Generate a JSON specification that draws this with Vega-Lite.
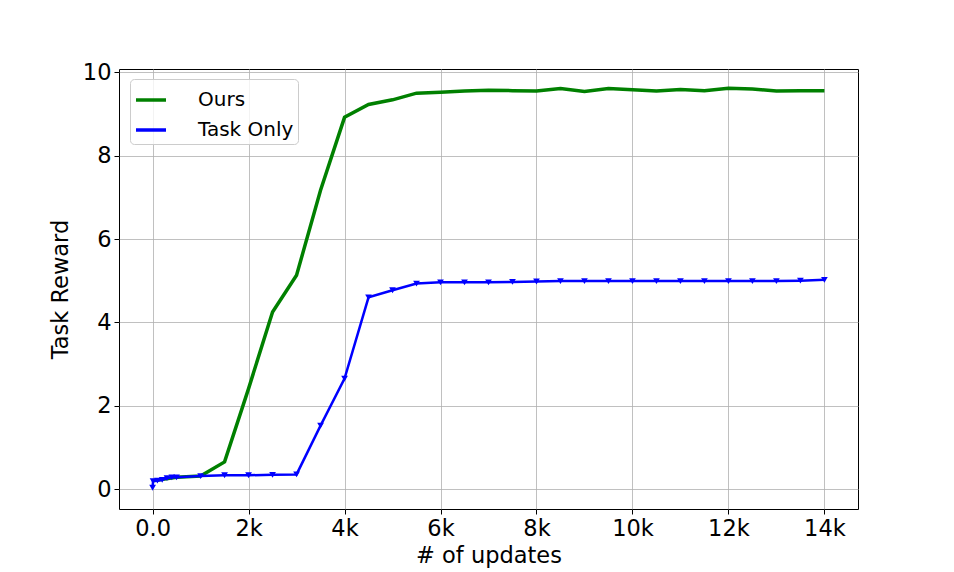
{
  "$schema": "https://vega.github.io/schema/vega-lite/v6.json",
  "width": 739,
  "height": 440,
  "autosize": {"type": "none"},
  "padding": {"left": 119, "top": 69, "right": 96, "bottom": 63},
  "background": "white",
  "config": {
    "font": "DejaVu Sans",
    "view": {"stroke": "black", "strokeWidth": 1},
    "axis": {
      "labelFont": "DejaVu Sans", "titleFont": "DejaVu Sans",
      "labelFontSize": 22.5, "titleFontSize": 22.5, "titleFontWeight": "normal",
      "labelColor": "black", "titleColor": "black",
      "gridColor": "#b0b0b0", "gridWidth": 0.8,
      "tickColor": "black", "tickSize": 5, "domainColor": "black", "domain": false,
      "labelPadding": 3
    }
  },
  "data": {"values": [
    {"u": 0, "r": 0.2, "s": "Ours"},
    {"u": 500, "r": 0.28, "s": "Ours"},
    {"u": 1000, "r": 0.31, "s": "Ours"},
    {"u": 1500, "r": 0.65, "s": "Ours"},
    {"u": 2000, "r": 2.41, "s": "Ours"},
    {"u": 2500, "r": 4.25, "s": "Ours"},
    {"u": 3000, "r": 5.13, "s": "Ours"},
    {"u": 3500, "r": 7.17, "s": "Ours"},
    {"u": 4000, "r": 8.92, "s": "Ours"},
    {"u": 4500, "r": 9.23, "s": "Ours"},
    {"u": 5000, "r": 9.34, "s": "Ours"},
    {"u": 5500, "r": 9.5, "s": "Ours"},
    {"u": 6000, "r": 9.52, "s": "Ours"},
    {"u": 6500, "r": 9.55, "s": "Ours"},
    {"u": 7000, "r": 9.57, "s": "Ours"},
    {"u": 7500, "r": 9.56, "s": "Ours"},
    {"u": 8000, "r": 9.55, "s": "Ours"},
    {"u": 8500, "r": 9.61, "s": "Ours"},
    {"u": 9000, "r": 9.54, "s": "Ours"},
    {"u": 9500, "r": 9.61, "s": "Ours"},
    {"u": 10000, "r": 9.58, "s": "Ours"},
    {"u": 10500, "r": 9.55, "s": "Ours"},
    {"u": 11000, "r": 9.59, "s": "Ours"},
    {"u": 11500, "r": 9.56, "s": "Ours"},
    {"u": 12000, "r": 9.62, "s": "Ours"},
    {"u": 12500, "r": 9.6, "s": "Ours"},
    {"u": 13000, "r": 9.55, "s": "Ours"},
    {"u": 13500, "r": 9.56, "s": "Ours"},
    {"u": 14000, "r": 9.56, "s": "Ours"},
    {"u": 0, "r": 0.03, "s": "Task Only"},
    {"u": 10, "r": 0.19, "s": "Task Only"},
    {"u": 100, "r": 0.2, "s": "Task Only"},
    {"u": 200, "r": 0.22, "s": "Task Only"},
    {"u": 300, "r": 0.26, "s": "Task Only"},
    {"u": 400, "r": 0.28, "s": "Task Only"},
    {"u": 500, "r": 0.28, "s": "Task Only"},
    {"u": 1000, "r": 0.31, "s": "Task Only"},
    {"u": 1500, "r": 0.33, "s": "Task Only"},
    {"u": 2000, "r": 0.33, "s": "Task Only"},
    {"u": 2500, "r": 0.34, "s": "Task Only"},
    {"u": 3000, "r": 0.35, "s": "Task Only"},
    {"u": 3500, "r": 1.52, "s": "Task Only"},
    {"u": 4000, "r": 2.65, "s": "Task Only"},
    {"u": 4500, "r": 4.6, "s": "Task Only"},
    {"u": 5000, "r": 4.77, "s": "Task Only"},
    {"u": 5500, "r": 4.93, "s": "Task Only"},
    {"u": 6000, "r": 4.96, "s": "Task Only"},
    {"u": 6500, "r": 4.96, "s": "Task Only"},
    {"u": 7000, "r": 4.96, "s": "Task Only"},
    {"u": 7500, "r": 4.97, "s": "Task Only"},
    {"u": 8000, "r": 4.98, "s": "Task Only"},
    {"u": 8500, "r": 4.99, "s": "Task Only"},
    {"u": 9000, "r": 4.99, "s": "Task Only"},
    {"u": 9500, "r": 4.99, "s": "Task Only"},
    {"u": 10000, "r": 4.99, "s": "Task Only"},
    {"u": 10500, "r": 4.99, "s": "Task Only"},
    {"u": 11000, "r": 4.99, "s": "Task Only"},
    {"u": 11500, "r": 4.99, "s": "Task Only"},
    {"u": 12000, "r": 4.99, "s": "Task Only"},
    {"u": 12500, "r": 4.99, "s": "Task Only"},
    {"u": 13000, "r": 4.99, "s": "Task Only"},
    {"u": 13500, "r": 5.0, "s": "Task Only"},
    {"u": 14000, "r": 5.02, "s": "Task Only"}
  ]},
  "encoding": {
    "x": {"field": "u", "type": "quantitative",
      "scale": {"domain": [-700, 14700], "nice": false, "zero": false},
      "axis": {"values": [0, 2000, 4000, 6000, 8000, 10000, 12000, 14000],
        "labelExpr": "datum.value == 0 ? '0.0' : (datum.value / 1000) + 'k'",
        "title": "# of updates", "titlePadding": 5}},
    "y": {"field": "r", "type": "quantitative",
      "scale": {"domain": [-0.48, 10.08], "nice": false, "zero": false},
      "axis": {"values": [0, 2, 4, 6, 8, 10], "title": "Task Reward", "titlePadding": 10}},
    "color": {"field": "s", "type": "nominal",
      "scale": {"domain": ["Ours", "Task Only"], "range": ["#008000", "#0000ff"]},
      "legend": {"title": null, "orient": "none", "legendX": 11, "legendY": 10,
        "symbolType": "stroke", "symbolStrokeWidth": 3.5, "symbolSize": 900,
        "labelFontSize": 20, "labelFont": "DejaVu Sans", "labelColor": "black",
        "fillColor": "rgba(255,255,255,0.8)", "strokeColor": "#cccccc", "cornerRadius": 4,
        "padding": 4, "rowPadding": 3, "labelOffset": 30, "labelLimit": 300}}
  },
  "layer": [
    {"mark": {"type": "line", "strokeWidth": 3.5},
     "transform": [{"filter": "datum.s == 'Ours'"}]},
    {"mark": {"type": "line", "strokeWidth": 2.5},
     "transform": [{"filter": "datum.s == 'Task Only'"}]},
    {"mark": {"type": "point", "shape": "triangle-down", "filled": true, "size": 45, "opacity": 1},
     "transform": [{"filter": "datum.s == 'Task Only'"}]}
  ]
}
